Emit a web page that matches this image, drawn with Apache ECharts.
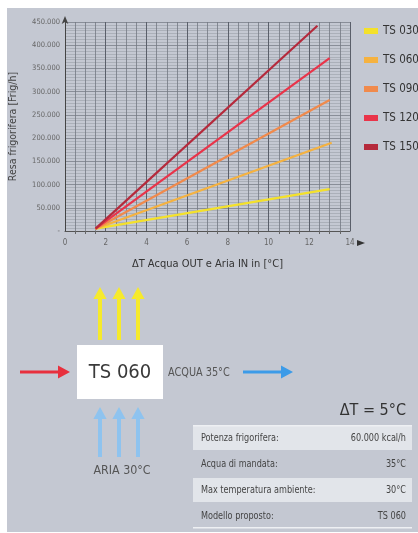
<!DOCTYPE html>
<html>
<head>
<meta charset="utf-8">
<script src="https://cdn.jsdelivr.net/npm/echarts@6/dist/echarts.min.js"></script>
<style>
  html, body { margin: 0; padding: 0; background: #ffffff; }
  #main { width: 418px; height: 533px; }
</style>
</head>
<body>
<div id="main"></div>
<script>
// dati
var models = ['TS 030', 'TS 060', 'TS 090', 'TS 120', 'TS 150'];
var colors = ['#f4e12a', '#f5b240', '#f08a4c', '#e9344a', '#b52a3c'];
var deltaT = [[1.5, 13], [1.5, 13.1], [1.5, 13], [1.5, 13], [1.5, 12.4]];
var resa = [[5000, 90000], [5000, 190000], [5000, 282000], [5000, 372000], [5000, 442000]];
var xTicks = [0, 2, 4, 6, 8, 10, 12, 14];
var tableLabels = ['Potenza frigorifera:', 'Acqua di mandata:', 'Max temperatura ambiente:', 'Modello proposto:'];
var tableValues = ['60.000 kcal/h', '35°C', '30°C', 'TS 060'];

var chart = echarts.init(document.getElementById('main'));
var narrow = '"DejaVu Sans Condensed", "Liberation Sans Narrow", sans-serif';
var bg = '#c4c8d2';

// freccia come poligono (decorazione dello schema)
function arrow(x1, y1, x2, y2, w, head, color) {
  var dx = x2 - x1, dy = y2 - y1;
  var len = Math.sqrt(dx * dx + dy * dy);
  var ux = dx / len, uy = dy / len, px = -uy, py = ux;
  var bx = x2 - ux * head, by = y2 - uy * head;
  var pts = [
    [x1 + px * w / 2, y1 + py * w / 2],
    [bx + px * w / 2, by + py * w / 2],
    [bx + px * head * 0.55, by + py * head * 0.55],
    [x2, y2],
    [bx - px * head * 0.55, by - py * head * 0.55],
    [bx - px * w / 2, by - py * w / 2],
    [x1 - px * w / 2, y1 - py * w / 2]
  ];
  return { type: 'polygon', shape: { points: pts }, style: { fill: color }, z: 10 };
}

function label(x, y, txt, size, color, align, sx) {
  return {
    type: 'text', x: x, y: y, scaleX: sx || 1, z: 11,
    style: { text: txt, font: size + 'px ' + narrow, fill: color, align: align, verticalAlign: 'middle' }
  };
}

var graphics = [
  // fondo con bordo bianco
  { type: 'rect', shape: { x: 7, y: 8, width: 411, height: 524 }, style: { fill: bg }, z: -10 },
  // freccia asse x
  { type: 'polygon', shape: { points: [[357, 240], [365, 243], [357, 246]] }, style: { fill: '#333' }, z: 10 },
  // box modello
  { type: 'rect', shape: { x: 77, y: 345, width: 86, height: 54 }, style: { fill: '#ffffff' }, z: 5 },
  label(120, 373, 'TS 060', 20, '#3a3a3a', 'center'),
  arrow(20, 372, 70, 372, 3, 12, '#e8303e'),
  label(168, 373, 'ACQUA 35°C', 12, '#555', 'left', 0.9),
  arrow(243, 372, 293, 372, 3, 12, '#3c9be8'),
  label(122, 471, 'ARIA 30°C', 13, '#555', 'center', 0.95),
  label(406, 411, '\u0394T = 5°C', 16, '#333', 'right'),
  { type: 'rect', shape: { x: 193, y: 425, width: 219, height: 1.5 }, style: { fill: '#eef0f3' }, z: 5 },
  { type: 'rect', shape: { x: 193, y: 527, width: 219, height: 1.5 }, style: { fill: '#eef0f3' }, z: 5 }
];
[100, 119, 138].forEach(function (x) {
  graphics.push(arrow(x, 340, x, 287, 4, 12, '#f6ea2c'));
  graphics.push(arrow(x, 457, x, 407, 4, 12, '#8ec3ef'));
});
tableLabels.forEach(function (lab, i) {
  var yc = 438 + i * 26;
  if (i % 2 === 0) {
    graphics.push({ type: 'rect', shape: { x: 193, y: yc - 12, width: 219, height: 24 }, style: { fill: '#e2e5ea' }, z: 4 });
  }
  graphics.push(label(201, yc, lab, 11, '#444', 'left', 0.82));
  graphics.push(label(406, yc, tableValues[i], 11, '#444', 'right', 0.82));
});

var series = models.map(function (name, i) {
  return {
    name: name,
    type: 'line',
    symbol: 'none',
    lineStyle: { width: 2.2, color: colors[i] },
    itemStyle: { color: colors[i] },
    data: deltaT[i].map(function (x, k) { return [x, resa[i][k]]; }),
    z: 3
  };
});

var option = {
  backgroundColor: '#ffffff',
  animation: false,
  textStyle: { fontFamily: narrow },
  color: colors,
  grid: { left: 64, top: 22, right: 68, bottom: 302 },
  legend: {
    orient: 'vertical',
    left: 359,
    top: 20,
    icon: 'rect',
    itemWidth: 14,
    itemHeight: 6,
    itemGap: 17,
    data: models,
    textStyle: { fontSize: 11.5, color: '#333', fontFamily: narrow }
  },
  xAxis: {
    type: 'value',
    min: 0,
    max: 14,
    interval: 2,
    name: '\u0394T Acqua OUT e Aria IN in [°C]',
    nameLocation: 'middle',
    nameGap: 28,
    nameTextStyle: { fontSize: 11, color: '#333', fontFamily: narrow },
    axisLine: { show: true, onZero: false, lineStyle: { color: '#555', width: 1 } },
    axisTick: { show: false },
    minorTick: { show: true, splitNumber: 4, length: 3, lineStyle: { color: '#666' } },
    axisLabel: { fontSize: 8, color: '#666', margin: 8, formatter: function (v) { return xTicks.indexOf(v) >= 0 ? String(v) : ''; } },
    splitLine: { show: true, lineStyle: { color: '#5a5f6a', width: 1 } },
    minorSplitLine: { show: true, lineStyle: { color: '#747983', width: 0.8 } }
  },
  yAxis: {
    type: 'value',
    min: 0,
    max: 450000,
    interval: 50000,
    name: 'Resa frigorifera [Frig/h]',
    nameLocation: 'middle',
    nameGap: 46,
    nameTextStyle: { fontSize: 10.5, color: '#444', fontFamily: narrow },
    axisLine: { show: true, symbol: ['none', 'arrow'], symbolSize: [5, 8], symbolOffset: [0, 6], lineStyle: { color: '#444' } },
    axisTick: { show: false },
    axisLabel: {
      fontSize: 7.5, color: '#666', margin: 5,
      formatter: function (v) { return v === 0 ? '-' : (v / 1000) + '.000'; }
    },
    splitLine: { show: true, lineStyle: { color: '#7a7f89', width: 0.8 } },
    minorSplitLine: { show: true, lineStyle: { color: '#9a9fa8', width: 0.6 } },
    minorTick: { show: false, splitNumber: 8 }
  },
  series: series,
  graphic: graphics
};
chart.setOption(option);
</script>
</body>
</html>
